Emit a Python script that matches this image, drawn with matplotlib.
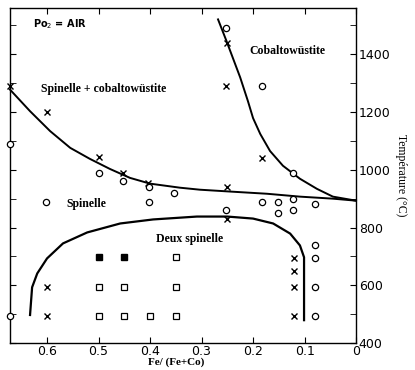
import matplotlib
matplotlib.use("Agg")
import matplotlib.pyplot as plt
from matplotlib.ticker import MultipleLocator

# experimental points, Fe/(Fe+Co) vs temperature (C)
cross_x = [0.672, 0.60, 0.50, 0.452, 0.404, 0.25, 0.252, 0.183, 0.25, 0.25,
           0.12, 0.12, 0.12, 0.12, 0.60, 0.60]
cross_y = [1290, 1200, 1045, 990, 955, 1440, 1290, 1040, 940, 830,
           695, 650, 595, 495, 595, 495]

circle_x = [0.672, 0.602, 0.50, 0.452, 0.402, 0.402, 0.353, 0.252, 0.183, 0.122,
            0.183, 0.151, 0.122, 0.08, 0.151, 0.122, 0.252, 0.08, 0.08, 0.08,
            0.08, 0.672]
circle_y = [1090, 890, 990, 960, 940, 890, 920, 1490, 1290, 990,
            890, 890, 900, 883, 852, 862, 862, 741, 695, 595,
            495, 495]

sq_open_x = [0.5, 0.45, 0.35, 0.5, 0.45, 0.4, 0.35, 0.35]
sq_open_y = [595, 595, 595, 495, 495, 495, 495, 697]
sq_fill_x = [0.5, 0.45]
sq_fill_y = [697, 697]

# phase boundaries
spinel_x = [0.672, 0.633, 0.594, 0.555, 0.517, 0.478, 0.439, 0.400, 0.342,
            0.303, 0.239, 0.173, 0.109, 0.045, 0.0]
spinel_y = [1278, 1203, 1134, 1076, 1038, 1003, 972, 952, 938,
            931, 924, 917, 907, 900, 893]

wustite_x = [0.268, 0.252, 0.225, 0.21, 0.20, 0.186, 0.167, 0.142, 0.109,
             0.076, 0.045, 0.0]
wustite_y = [1521, 1448, 1320, 1238, 1179, 1124, 1065, 1014, 969,
             934, 907, 893]

dome_x = [0.633, 0.629, 0.619, 0.600, 0.569, 0.522, 0.458, 0.394, 0.309, 0.250,
          0.200, 0.161, 0.128, 0.109, 0.101, 0.101]
dome_y = [497, 593, 641, 693, 745, 783, 814, 828, 838, 838,
          831, 814, 779, 738, 697, 479]

fig = plt.figure(figsize=(4.15, 3.70), dpi=100)
ax = fig.add_axes([0.024, 0.073, 0.834, 0.905])

ax.plot(spinel_x, spinel_y, color='black', lw=1.4, clip_on=False)
ax.plot(wustite_x, wustite_y, color='black', lw=1.4)
ax.plot(dome_x, dome_y, color='black', lw=1.6)

ax.plot(cross_x, cross_y, 'x', color='black', ms=4.5, mew=1.0, ls='none', clip_on=False)
ax.plot(circle_x, circle_y, 'o', mfc='white', mec='black', ms=4.5, mew=0.9, ls='none',
        clip_on=False, zorder=5)
ax.plot(sq_open_x, sq_open_y, 's', mfc='white', mec='black', ms=4.5, mew=0.9, ls='none')
ax.plot(sq_fill_x, sq_fill_y, 's', color='black', ms=4.5, ls='none')

ax.set_xlim(0.672, 0)
ax.set_ylim(400, 1560)

ax.set_xticks([0.6, 0.5, 0.4, 0.3, 0.2, 0.1, 0.0])
ax.set_xticklabels(['0.6', '0.5', '0.4', '0.3', '0.2', '0.1', '0'])
ax.yaxis.set_major_locator(MultipleLocator(200))
ax.yaxis.set_minor_locator(MultipleLocator(100))

ax.tick_params(axis='x', which='both', direction='in', top=True, bottom=True,
               length=4, labelsize=9, pad=1.5)
ax.tick_params(axis='y', which='both', direction='in', left=True, right=True,
               labelleft=False, labelright=True, length=4, labelsize=9, pad=2)
for s in ax.spines.values():
    s.set_linewidth(1.0)

ax.set_xlabel('Fe/ (Fe+Co)', family='Liberation Serif', fontweight='bold', fontsize=8)
ax.xaxis.set_label_coords(0.48, -0.044)
ax.yaxis.set_label_position('right')
ax.set_ylabel('Température (°C)', family='Liberation Serif', fontsize=8.5, rotation=270,
              labelpad=12)

serif = dict(family='Liberation Serif', fontweight='bold', fontsize=8.5)
ax.text(0.612, 1280, 'Spinelle + cobaltowüstite', ha='left', va='center', **serif)
ax.text(0.208, 1412, 'Cobaltowüstite', ha='left', va='center', **serif)
ax.text(0.563, 883, 'Spinelle', ha='left', va='center', **serif)
ax.text(0.388, 760, 'Deux spinelle', ha='left', va='center', **serif)
ax.text(0.628, 1505, 'Po$_2$ = AIR', ha='left', va='center', fontsize=7, fontweight='bold')

fig.savefig('out.png', dpi=100)
